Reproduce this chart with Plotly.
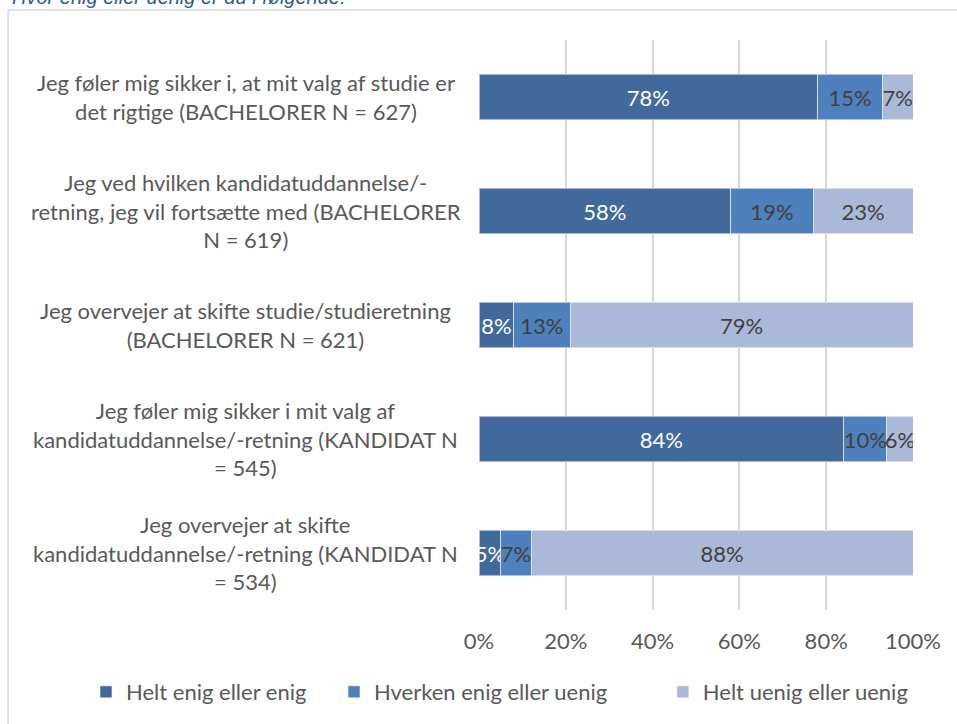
import plotly.graph_objects as go

categories = [
    "Jeg føler mig sikker i, at mit valg af studie er<br>det rigtige (BACHELORER N = 627)",
    "Jeg ved hvilken kandidatuddannelse/-<br>retning, jeg vil fortsætte med (BACHELORER<br>N = 619)",
    "Jeg overvejer at skifte studie/studieretning<br>(BACHELORER N = 621)",
    "Jeg føler mig sikker i mit valg af<br>kandidatuddannelse/-retning (KANDIDAT N<br>= 545)",
    "Jeg overvejer at skifte<br>kandidatuddannelse/-retning (KANDIDAT N<br>= 534)",
]
series_names = ["Helt enig eller enig", "Hverken enig eller uenig", "Helt uenig eller uenig"]
enig = [78, 58, 8, 84, 5]
hverken = [15, 19, 13, 10, 7]
uenig = [7, 23, 79, 6, 88]
x_ticks = [0, 20, 40, 60, 80, 100]
title_text = "Hvor enig eller uenig er du i følgende:"

colors = ["#41699B", "#4D80BC", "#AAB9D7"]
text_colors = ["#FFFFFF", "#404040", "#404040"]
FONT = "Lato"
PADS = ["\u00a0" * 4, "\u00a0" * 9, ""]  # extra spacing between legend entries

fig = go.Figure()
for name, vals, col, tcol, pad in zip(series_names, [enig, hverken, uenig], colors, text_colors, PADS):
    fig.add_trace(go.Bar(
        y=categories, x=vals, name=name + pad, orientation="h",
        marker=dict(color=col, line=dict(color="rgba(255,255,255,0.55)", width=1)),
        text=[f"{v}%" for v in vals], textposition="inside", insidetextanchor="middle",
        textangle=0, constraintext="none", cliponaxis=True,
        textfont=dict(family=FONT, size=22, color=tcol),
        hoverinfo="skip",
    ))

# category labels, centred
for c in categories:
    fig.add_annotation(x=-0.537, y=c, xref="paper", yref="y", text=c, showarrow=False,
                       align="center", xanchor="center", yanchor="middle",
                       font=dict(family=FONT, size=22, color="#595959"))

# title (cut off at top, as in the reference)
fig.add_annotation(x=-1.081, y=1.0754, xref="paper", yref="paper", text="<i>" + title_text + "</i>",
                   showarrow=False, xanchor="left", yanchor="middle",
                   font=dict(family="Liberation Sans", size=20, color="#2E5A8E"))

# chart frame
fig.add_shape(type="rect", xref="paper", yref="paper", x0=-1.085, x1=1.2, y0=-0.25, y1=1.0526,
              line=dict(color="#D9D9D9", width=1.5), fillcolor="rgba(0,0,0,0)", layer="below")

fig.update_layout(
    barmode="stack", bargap=0.6,
    width=957, height=724,
    margin=dict(l=479, r=44, t=40, b=114, autoexpand=False),
    paper_bgcolor="white", plot_bgcolor="white",
    showlegend=True,
    legend=dict(orientation="h", xref="paper", x=-0.9055, xanchor="left",
                yref="paper", y=-0.1439, yanchor="middle",
                font=dict(family=FONT, size=22, color="#595959"), traceorder="normal"),
    xaxis=dict(range=[0, 100], tickvals=x_ticks, ticktext=[f"{t}%" for t in x_ticks],
               showgrid=True, gridcolor="#D9D9D9", gridwidth=1.5, zeroline=False,
               showline=False, ticks="outside", ticklen=12, tickcolor="rgba(0,0,0,0)",
               tickfont=dict(family=FONT, size=22, color="#595959"), fixedrange=True),
    yaxis=dict(autorange="reversed", showticklabels=False, showgrid=False, zeroline=False,
               ticks="", showline=False, fixedrange=True),
)

fig.write_html("out.html", config={"displayModeBar": False},
               post_script="document.body.style.margin='0';")
